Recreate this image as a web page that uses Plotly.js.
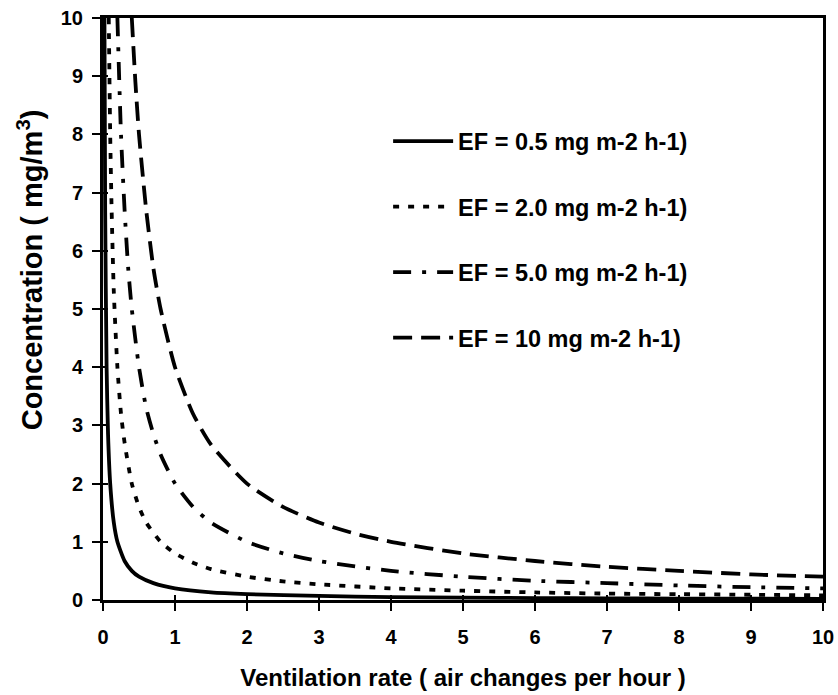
<!DOCTYPE html>
<html>
<head>
<meta charset="utf-8">
<script src="https://cdn.plot.ly/plotly-3.0.1.min.js"></script>
<style>html,body{margin:0;padding:0;background:#fff;}#chart{width:838px;height:695px;}</style>
</head>
<body>
<div id="chart"></div>
<script>
// Series names
const seriesNames = [
  "EF = 0.5 mg m-2 h-1)",
  "EF = 2.0 mg m-2 h-1)",
  "EF = 5.0 mg m-2 h-1)",
  "EF = 10 mg m-2 h-1)"
];

// Values (ventilation rate, concentration)
const xEF05 = [0.02, 0.03, 0.05, 0.07, 0.1, 0.15, 0.2, 0.3, 0.4, 0.5, 0.7, 1, 1.5, 2, 3, 4, 5, 6, 7, 8, 9, 10];
const yEF05 = [10, 6.7, 4.0, 2.85, 2.0, 1.33, 1.0, 0.67, 0.5, 0.4, 0.29, 0.2, 0.13, 0.1, 0.07, 0.05, 0.04, 0.033, 0.029, 0.025, 0.022, 0.02];

const xEF2 = [0.08, 0.1, 0.12, 0.15, 0.2, 0.25, 0.3, 0.4, 0.5, 0.6, 0.8, 1, 1.25, 1.5, 2, 2.5, 3, 4, 5, 6, 7, 8, 9, 10];
const yEF2 = [10, 8.0, 6.7, 5.3, 4.0, 3.2, 2.7, 2.0, 1.6, 1.33, 1.0, 0.8, 0.64, 0.53, 0.4, 0.32, 0.27, 0.2, 0.16, 0.13, 0.11, 0.1, 0.09, 0.08];

const xEF5 = [0.2, 0.25, 0.3, 0.35, 0.4, 0.5, 0.6, 0.7, 0.8, 1, 1.25, 1.5, 2, 2.5, 3, 4, 5, 6, 7, 8, 9, 10];
const yEF5 = [10, 8.0, 6.7, 5.7, 5.0, 4.0, 3.3, 2.85, 2.5, 2.0, 1.6, 1.33, 1.0, 0.8, 0.67, 0.5, 0.4, 0.33, 0.29, 0.25, 0.22, 0.2];

const xEF10 = [0.4, 0.45, 0.5, 0.6, 0.7, 0.8, 1, 1.25, 1.5, 2, 2.5, 3, 3.5, 4, 5, 6, 7, 8, 9, 10];
const yEF10 = [10, 8.9, 8.0, 6.7, 5.7, 5.0, 4.0, 3.2, 2.67, 2.0, 1.6, 1.33, 1.14, 1.0, 0.8, 0.67, 0.57, 0.5, 0.44, 0.4];

// Tick labels
const tickValues = [0, 1, 2, 3, 4, 5, 6, 7, 8, 9, 10];
const tickLabels = ["0", "1", "2", "3", "4", "5", "6", "7", "8", "9", "10"];

const xTitle = "Ventilation rate ( air changes per hour )";
const yTitle = "Concentration ( mg/m<sup>3</sup>)";

const FONT = "Arial, 'Liberation Sans', sans-serif";
const lw = 3.8;

const traces = [
  {x: xEF05, y: yEF05, name: seriesNames[0], legendgroup: "a", mode: "lines",
   line: {color: "#000", width: lw, dash: "solid", shape: "spline", smoothing: 0.6}},
  {x: xEF2, y: yEF2, name: seriesNames[1], legendgroup: "b", mode: "lines",
   line: {color: "#000", width: lw, dash: "6px,9px", shape: "spline", smoothing: 0.6}},
  {x: xEF5, y: yEF5, name: seriesNames[2], legendgroup: "c", mode: "lines",
   line: {color: "#000", width: lw, dash: "18px,11px,4px,11px", shape: "spline", smoothing: 0.6}},
  {x: xEF10, y: yEF10, name: seriesNames[3], legendgroup: "d", mode: "lines",
   line: {color: "#000", width: lw, dash: "19px,9px", shape: "spline", smoothing: 0.6}},
  // invisible helper trace for the inner tick axes
  {x: [0], y: [0], xaxis: "x2", yaxis: "y2", mode: "markers", marker: {opacity: 0},
   showlegend: false, hoverinfo: "skip"}
];

const axisCommon = {
  range: [0, 10],
  tickvals: tickValues,
  ticktext: tickLabels,
  showgrid: false,
  zeroline: false,
  showline: true,
  linecolor: "#000",
  linewidth: 3,
  mirror: true,
  ticks: "outside",
  ticklen: 8,
  tickwidth: 2,
  tickcolor: "#000",
  tickfont: {family: FONT, size: 20, color: "#000", weight: 700},
  fixedrange: true
};

const layout = {
  width: 838,
  height: 695,
  margin: {l: 103, r: 15, t: 18, b: 95},
  paper_bgcolor: "#fff",
  plot_bgcolor: "#fff",
  showlegend: true,
  legend: {
    x: 0.396, xanchor: "left",
    y: 0.826, yanchor: "top",
    bgcolor: "rgba(0,0,0,0)",
    font: {family: FONT, size: 23.5, color: "#000", weight: 700},
    itemwidth: 60,
    tracegroupgap: 32,
    traceorder: "grouped"
  },
  xaxis: Object.assign({}, axisCommon, {
    ticklabelstandoff: 9,
    title: {text: xTitle,
            font: {family: FONT, size: 24, color: "#000", weight: 700}, standoff: 23}
  }),
  yaxis: Object.assign({}, axisCommon, {
    ticklabelstandoff: 5
  }),
  xaxis2: {overlaying: "x", matches: "x", range: [0, 10], tickvals: tickValues,
           ticks: "inside", ticklen: 5, tickwidth: 2, tickcolor: "#000",
           showticklabels: false, showgrid: false, zeroline: false, showline: false,
           anchor: "y2", side: "bottom", fixedrange: true},
  yaxis2: {overlaying: "y", matches: "y", range: [0, 10], tickvals: tickValues,
           ticks: "inside", ticklen: 5, tickwidth: 2, tickcolor: "#000",
           showticklabels: false, showgrid: false, zeroline: false, showline: false,
           anchor: "x2", side: "left", fixedrange: true},
  annotations: [{
    text: yTitle, xref: "paper", yref: "paper",
    x: -0.101, y: 0.567, xanchor: "center", yanchor: "middle",
    textangle: -90, showarrow: false,
    font: {family: FONT, size: 29, color: "#000", weight: 700}
  }]
};

Plotly.newPlot("chart", traces, layout, {displayModeBar: false, staticPlot: true});
</script>
</body>
</html>
